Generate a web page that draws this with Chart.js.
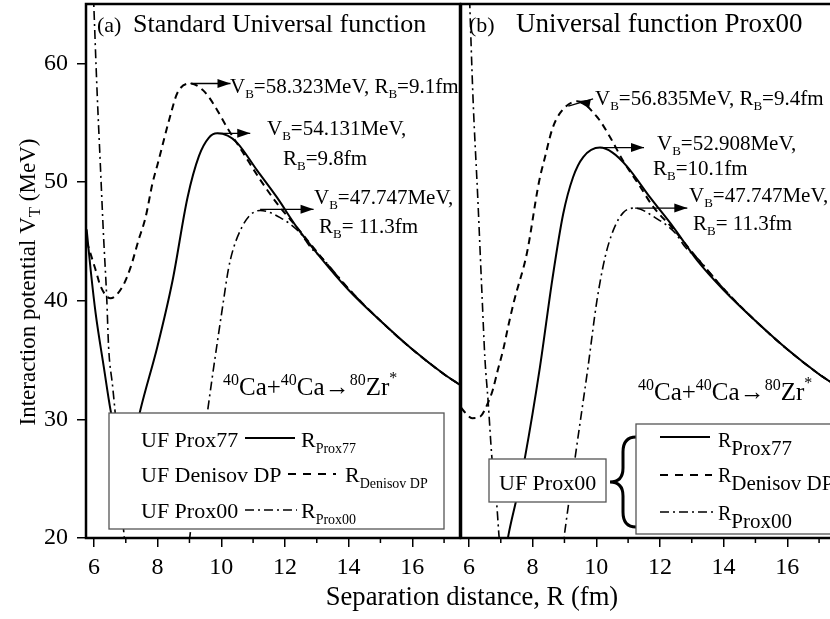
<!DOCTYPE html>
<html>
<head>
<meta charset="utf-8">
<script src="https://cdn.jsdelivr.net/npm/chart.js@4"></script>
<style>
  html, body { margin: 0; padding: 0; background: #fff; }
  #wrap { position: relative; width: 830px; height: 619px; overflow: hidden; }
  #wrap canvas { position: absolute; left: 0; top: 0; }
</style>
</head>
<body>
<div id="wrap">
  <canvas id="panelA" width="830" height="619"></canvas>
  <canvas id="panelB" width="845" height="619"></canvas>
</div>
<script>
// ---- data: R (fm) and V_T (MeV) ----
// panel (a) Standard Universal function
const aR77 = [5.77, 5.9, 6.05, 6.31, 6.52, 6.75, 7.0, 7.2, 7.46, 7.99, 8.47, 8.94, 9.3, 9.6, 9.87, 10.2, 10.5, 11.12, 11.75, 12.37, 13.1, 14.0, 15.0, 16.0, 17.0, 17.5];
const aV77 = [46.0, 42.5, 39.0, 34.4, 30.8, 27.8, 26.5, 27.6, 30.8, 36.1, 41.7, 48.7, 52.2, 53.7, 54.1, 53.9, 53.3, 51.0, 48.7, 46.2, 43.7, 40.9, 38.3, 35.9, 33.8, 32.9];

const aRDen = [5.77, 5.83, 6.05, 6.21, 6.52, 6.9, 7.15, 7.4, 7.62, 7.84, 8.0, 8.4, 8.62, 9.03, 9.44, 9.75, 10.18, 10.7, 11.22, 11.75, 12.4, 13.1, 14.0, 15.0, 16.0, 17.0, 17.5];
const aVDen = [45.0, 44.5, 42.6, 41.2, 40.2, 41.2, 42.8, 45.1, 47.0, 49.9, 51.5, 55.6, 57.5, 58.3, 57.7, 56.6, 54.6, 52.4, 50.2, 48.2, 46.1, 43.8, 41.0, 38.3, 35.9, 33.8, 32.9];

const aR00 = [5.98, 6.1, 6.2, 6.3, 6.4, 6.46, 6.59, 6.7, 6.93, 7.2, 8.0, 8.8, 9.03, 9.3, 9.56, 9.72, 10.07, 10.22, 10.37, 10.65, 10.9, 11.22, 11.85, 12.48, 12.8, 13.2, 14.0, 15.0, 16.0, 17.0, 17.5];
const aV00 = [66.0, 57.5, 51.5, 45.5, 40.3, 36.1, 32.7, 29.5, 20.7, 15.0, 10.0, 15.0, 20.5, 25.5, 30.5, 33.6, 40.0, 42.6, 44.3, 46.2, 47.2, 47.6, 47.0, 45.7, 44.5, 43.5, 41.0, 38.3, 35.9, 33.8, 32.9];

// panel (b) Universal function Prox00
const bR77 = [6.8, 7.23, 7.51, 7.76, 8.23, 8.62, 8.96, 9.27, 9.59, 10.12, 10.5, 10.97, 11.69, 12.42, 13.17, 14.0, 15.0, 16.0, 17.0, 17.5];
const bV77 = [13.0, 20.1, 23.5, 26.8, 34.4, 41.8, 47.3, 50.4, 52.1, 52.9, 52.5, 51.3, 48.7, 46.2, 43.4, 40.9, 38.3, 35.9, 33.8, 32.9];

const bRDen = [5.75, 5.87, 6.1, 6.34, 6.6, 6.75, 6.91, 7.07, 7.23, 7.42, 7.82, 8.2, 8.39, 8.61, 8.86, 9.4, 10.02, 10.43, 10.84, 11.38, 11.79, 12.4, 13.1, 14.0, 15.0, 16.0, 17.0, 17.5];
const bVDen = [31.0, 30.6, 30.1, 30.2, 31.4, 32.5, 34.2, 35.8, 37.8, 40.0, 44.0, 50.0, 52.1, 54.4, 55.8, 56.8, 55.5, 53.8, 51.8, 49.6, 47.9, 46.1, 43.8, 41.0, 38.3, 35.9, 33.8, 32.9];

const bR00 = [6.0, 6.13, 6.28, 6.41, 6.5, 6.6, 6.72, 6.88, 6.95, 7.3, 8.0, 8.7, 9.02, 9.4, 9.74, 10.02, 10.28, 10.53, 10.84, 11.22, 11.85, 12.48, 12.8, 13.2, 14.0, 15.0, 16.0, 17.0, 17.5];
const bV00 = [67.0, 56.9, 48.5, 40.5, 35.2, 31.6, 26.8, 22.6, 20.0, 14.0, 10.0, 14.0, 20.7, 28.0, 34.4, 40.0, 43.7, 45.9, 47.4, 47.8, 47.0, 45.7, 44.5, 43.5, 41.0, 38.3, 35.9, 33.8, 32.9];

const xTicks = [6, 8, 10, 12, 14, 16];
const yTicks = [20, 30, 40, 50, 60];

const FONT = '"Liberation Serif", "Times New Roman", serif';
const DASH = [7, 5];
const DASHDOT = [9, 4, 2, 4];

function series(R, V, dash, width) {
  return {
    data: R.map((r, i) => ({ x: r, y: V[i] })),
    borderColor: "#000",
    borderWidth: width,
    borderDash: dash,
    pointRadius: 0,
    fill: false,
    cubicInterpolationMode: "monotone"
  };
}

// text with sub/superscripts: parts = [text, size, dy]
function rich(ctx, x, y, parts, measureOnly) {
  let w = 0;
  parts.forEach(([t, size, dy]) => {
    ctx.font = size + "px " + FONT;
    if (!measureOnly) ctx.fillText(t, x + w, y + dy);
    w += ctx.measureText(t).width;
  });
  return w;
}

function head(ctx, x, y, a) {
  ctx.beginPath();
  ctx.moveTo(x, y);
  ctx.lineTo(x - 13 * Math.cos(a) + 4.5 * Math.sin(a), y - 13 * Math.sin(a) - 4.5 * Math.cos(a));
  ctx.lineTo(x - 13 * Math.cos(a) - 4.5 * Math.sin(a), y - 13 * Math.sin(a) + 4.5 * Math.cos(a));
  ctx.closePath();
  ctx.fill();
}

function arrow(ctx, x1, y1, x2, y2) {
  ctx.save();
  ctx.strokeStyle = "#000";
  ctx.fillStyle = "#000";
  ctx.lineWidth = 1.3;
  ctx.beginPath();
  ctx.moveTo(x1, y1);
  ctx.lineTo(x2, y2);
  ctx.stroke();
  head(ctx, x2, y2, Math.atan2(y2 - y1, x2 - x1));
  ctx.restore();
}

function legendLine(ctx, x1, x2, y, dash, width) {
  ctx.save();
  ctx.strokeStyle = "#000";
  ctx.lineWidth = width;
  ctx.setLineDash(dash);
  ctx.beginPath();
  ctx.moveTo(x1, y);
  ctx.lineTo(x2, y);
  ctx.stroke();
  ctx.restore();
}

function box(ctx, x, y, w, h) {
  ctx.save();
  ctx.fillStyle = "#fff";
  ctx.fillRect(x, y, w, h);
  ctx.strokeStyle = "#555";
  ctx.lineWidth = 1.3;
  ctx.strokeRect(x, y, w, h);
  ctx.restore();
}

function frame(chart) {
  const { ctx, chartArea: ca, scales } = chart;
  ctx.save();
  ctx.strokeStyle = "#000";
  ctx.lineWidth = 2.5;
  ctx.strokeRect(ca.left, ca.top, ca.right - ca.left, ca.bottom - ca.top);
  // minor ticks on x
  ctx.lineWidth = 1.5;
  for (let v = 7; v <= 17; v += 2) {
    const px = scales.x.getPixelForValue(v);
    ctx.beginPath();
    ctx.moveTo(px, ca.bottom);
    ctx.lineTo(px, ca.bottom + 5);
    ctx.stroke();
  }
  ctx.restore();
}

function scalesFor(showY) {
  return {
    x: {
      type: "linear",
      min: 5.75,
      max: 17.5,
      afterBuildTicks: s => { s.ticks = xTicks.map(v => ({ value: v })); },
      afterFit: s => { s.height = 81; s.paddingLeft = 0; s.paddingRight = 0; },
      ticks: { color: "#000", font: { family: FONT, size: 24 }, padding: 6, maxRotation: 0 },
      grid: { drawOnChartArea: false, tickLength: 9, color: "#000", lineWidth: 1.5 },
      border: { display: false }
    },
    y: {
      display: showY,
      min: 20,
      max: 65,
      afterBuildTicks: s => { s.ticks = yTicks.map(v => ({ value: v })); },
      afterFit: s => { s.width = showY ? 86 : 0; s.paddingTop = 0; s.paddingBottom = 0; },
      ticks: { color: "#000", font: { family: FONT, size: 24 }, padding: 9 },
      grid: { drawOnChartArea: false, tickLength: 9, color: "#000", lineWidth: 1.5 },
      border: { display: false }
    }
  };
}

const reaction = [["40", 16, -10], ["Ca+", 25, 0], ["40", 16, -10], ["Ca\u2192", 25, 0], ["80", 16, -10], ["Zr", 25, 0], ["*", 16, -12]];

const panelAPlugin = {
  id: "panelA",
  afterDatasetsDraw(chart) {
    const { ctx, scales } = chart;
    const X = v => scales.x.getPixelForValue(v);
    const Y = v => scales.y.getPixelForValue(v);
    frame(chart);
    ctx.save();
    ctx.fillStyle = "#000";
    ctx.textBaseline = "alphabetic";

    // panel title
    rich(ctx, 97, 32, [["(a)", 22, 0]]);
    rich(ctx, 133, 32, [["Standard Universal function", 26, 0]]);

    // barrier annotations
    arrow(ctx, X(9.03), Y(58.3), X(10.29), Y(58.3));
    rich(ctx, 230, 93, [["V", 21, 0], ["B", 13, 5], ["=58.323MeV, R", 21, 0], ["B", 13, 5], ["=9.1fm", 21, 0]]);
    arrow(ctx, X(9.87), Y(54.1), X(10.91), Y(54.1));
    rich(ctx, 267, 135, [["V", 21, 0], ["B", 13, 5], ["=54.131MeV,", 21, 0]]);
    rich(ctx, 283, 165, [["R", 21, 0], ["B", 13, 5], ["=9.8fm", 21, 0]]);
    arrow(ctx, X(11.22), Y(47.7), X(12.9), Y(47.7));
    rich(ctx, 314, 204, [["V", 21, 0], ["B", 13, 5], ["=47.747MeV,", 21, 0]]);
    rich(ctx, 319, 233, [["R", 21, 0], ["B", 13, 5], ["= 11.3fm", 21, 0]]);

    // reaction
    rich(ctx, 223, 395, reaction);

    // legend
    box(ctx, 109, 413, 335, 116);
    rich(ctx, 141, 447, [["UF Prox77", 22, 0]]);
    legendLine(ctx, 245, 295, 438, [], 2);
    rich(ctx, 301, 447, [["R", 22, 0], ["Prox77", 14, 6]]);
    rich(ctx, 141, 482, [["UF Denisov DP", 22, 0]]);
    legendLine(ctx, 288, 336, 474, [8, 7], 2);
    rich(ctx, 345, 482, [["R", 22, 0], ["Denisov DP", 14, 6]]);
    rich(ctx, 141, 518, [["UF Prox00", 22, 0]]);
    legendLine(ctx, 245, 297, 510, DASHDOT, 1.6);
    rich(ctx, 301, 518, [["R", 22, 0], ["Prox00", 14, 6]]);

    // axis titles
    const xt = [["Separation distance, R (fm)", 26.6, 0]];
    const wx = rich(ctx, 0, 0, xt, true);
    rich(ctx, 472 - wx / 2, 605, xt);
    ctx.translate(35, 282);
    ctx.rotate(-Math.PI / 2);
    const yt = [["Interaction potential V", 23, 0], ["T", 17, 5], [" (MeV)", 23, 0]];
    const wy = rich(ctx, 0, 0, yt, true);
    rich(ctx, -wy / 2, 0, yt);
    ctx.restore();
  }
};

const panelBPlugin = {
  id: "panelB",
  afterDatasetsDraw(chart) {
    const { ctx, scales } = chart;
    const X = v => scales.x.getPixelForValue(v);
    const Y = v => scales.y.getPixelForValue(v);
    frame(chart);
    ctx.save();
    ctx.fillStyle = "#000";
    ctx.strokeStyle = "#000";

    rich(ctx, 469, 32, [["(b)", 22, 0]]);
    rich(ctx, 516, 32, [["Universal function Prox00", 27, 0]]);

    // short left-pointing arrow near the Denisov peak
    ctx.lineWidth = 1.3;
    ctx.beginPath();
    ctx.moveTo(X(9.12), Y(56.4));
    ctx.lineTo(X(9.9), Y(57.0));
    ctx.stroke();
    head(ctx, X(9.4), Y(56.8), Math.PI + 0.2);
    rich(ctx, 595, 105, [["V", 21, 0], ["B", 13, 5], ["=56.835MeV, R", 21, 0], ["B", 13, 5], ["=9.4fm", 21, 0]]);
    arrow(ctx, X(10.12), Y(52.9), X(11.5), Y(52.9));
    rich(ctx, 657, 150, [["V", 21, 0], ["B", 13, 5], ["=52.908MeV,", 21, 0]]);
    rich(ctx, 653, 175, [["R", 21, 0], ["B", 13, 5], ["=10.1fm", 21, 0]]);
    arrow(ctx, X(11.22), Y(47.8), X(12.86), Y(47.8));
    rich(ctx, 689, 202, [["V", 21, 0], ["B", 13, 5], ["=47.747MeV,", 21, 0]]);
    rich(ctx, 693, 230, [["R", 21, 0], ["B", 13, 5], ["= 11.3fm", 21, 0]]);

    rich(ctx, 638, 400, reaction);

    // legend
    box(ctx, 489, 459, 117, 43);
    rich(ctx, 499, 490, [["UF Prox00", 22, 0]]);
    ctx.save();
    ctx.lineWidth = 3;
    ctx.beginPath();
    ctx.moveTo(636, 437);
    ctx.quadraticCurveTo(623, 437, 623, 452);
    ctx.lineTo(623, 468);
    ctx.quadraticCurveTo(623, 482, 610, 482);
    ctx.quadraticCurveTo(623, 482, 623, 496);
    ctx.lineTo(623, 512);
    ctx.quadraticCurveTo(623, 527, 636, 527);
    ctx.stroke();
    ctx.restore();
    box(ctx, 636, 424, 210, 110);
    legendLine(ctx, 660, 710, 437, [], 2);
    rich(ctx, 718, 447, [["R", 20, 0], ["Prox77", 21, 8]]);
    legendLine(ctx, 660, 712, 475, [8, 7], 2);
    rich(ctx, 718, 482, [["R", 20, 0], ["Denisov DP", 21, 8]]);
    legendLine(ctx, 660, 714, 512, DASHDOT, 1.6);
    rich(ctx, 718, 520, [["R", 20, 0], ["Prox00", 21, 8]]);
    ctx.restore();
  }
};

new Chart(document.getElementById("panelA"), {
  type: "line",
  data: {
    datasets: [
      series(aR77, aV77, [], 2),
      series(aRDen, aVDen, DASH, 2),
      series(aR00, aV00, DASHDOT, 1.6)
    ]
  },
  options: {
    responsive: false,
    animation: false,
    devicePixelRatio: 1,
    layout: { padding: { left: 0, right: 370, top: 4, bottom: 0 } },
    plugins: { legend: { display: false }, tooltip: { enabled: false } },
    scales: scalesFor(true)
  },
  plugins: [panelAPlugin]
});

new Chart(document.getElementById("panelB"), {
  type: "line",
  data: {
    datasets: [
      series(bR77, bV77, [], 2),
      series(bRDen, bVDen, DASH, 2),
      series(bR00, bV00, DASHDOT, 1.6)
    ]
  },
  options: {
    responsive: false,
    animation: false,
    devicePixelRatio: 1,
    layout: { padding: { left: 461, right: 10, top: 4, bottom: 0 } },
    plugins: { legend: { display: false }, tooltip: { enabled: false } },
    scales: scalesFor(false)
  },
  plugins: [panelBPlugin]
});
</script>
</body>
</html>
